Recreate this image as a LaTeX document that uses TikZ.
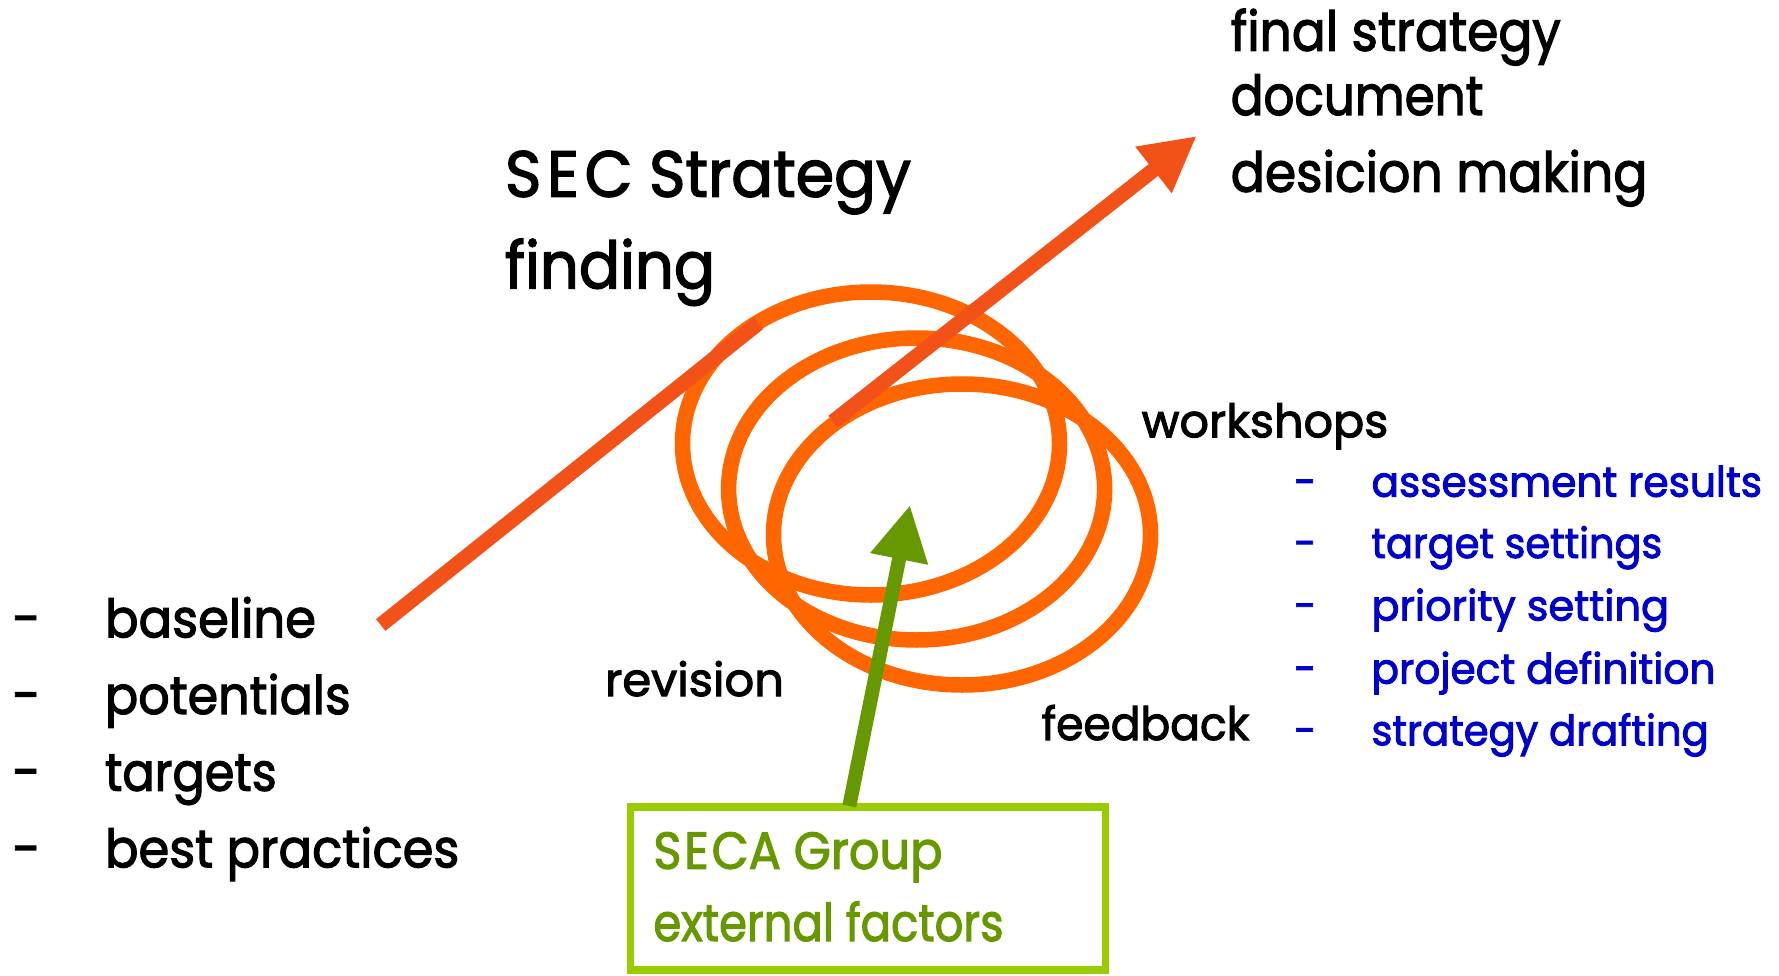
\documentclass[tikz,border=0pt]{standalone}
\usepackage{fontspec}
\setmainfont{Poppins}[UprightFeatures={FakeBold=2.2}]
\usepackage{graphicx}
\usetikzlibrary{arrows.meta}
\definecolor{ringorange}{HTML}{FF6600}
\definecolor{arrowred}{HTML}{F25218}
\definecolor{arrowgreen}{HTML}{669900}
\definecolor{boxgreen}{HTML}{99CC00}
\definecolor{listblue}{HTML}{0000CC}
\newcommand\fw[2]{\resizebox{#1pt}{\height}{#2}}
\tikzset{
  txt/.style={anchor=base west, inner sep=0pt, outer sep=0pt},
  big/.style={txt, font=\fontsize{65}{70}\selectfont},
  head/.style={txt, font=\fontsize{55}{60}\selectfont},
  leftitem/.style={txt, font=\fontsize{53}{58}\selectfont},
  mid/.style={txt, font=\fontsize{46}{50}\selectfont},
  blueitem/.style={txt, font=\fontsize{42}{46}\selectfont, text=listblue},
  greentxt/.style={txt, font=\fontsize{52}{56}\selectfont, text=arrowgreen},
  ring/.style={draw=ringorange, line width=15.5pt},
  redarrow/.style={draw=arrowred, line width=15pt, line cap=butt},
  greenarrow/.style={draw=arrowgreen, line width=14pt, line cap=butt},
  secabox/.style={draw=boxgreen, line width=7.3pt, fill=white, minimum width=475.2pt, minimum height=163pt, inner sep=0pt},
}
\begin{document}
\begin{tikzpicture}[x=1pt, y=-1pt]
\useasboundingbox (0,0) rectangle (1779,976);
% spiral rings
\draw[ring] (871,443.5) ellipse [x radius=188.5pt, y radius=151.5pt];
\draw[ring] (916.6,489) ellipse [x radius=188pt, y radius=151pt];
\draw[ring] (962,534.5) ellipse [x radius=188.5pt, y radius=150.5pt];
% red arrow
\coordinate (r1a) at (380.7,625);
\coordinate (r1b) at (758.3,323.3);
\coordinate (r2a) at (833,421.7);
\coordinate (r2b) at (1196.7,136);
\draw[redarrow] (r1a) -- (r1b);
\draw[redarrow, -{Triangle[length=55pt, width=55pt]}, arrowred] (r2a) -- (r2b);
% green box and arrow
\node[secabox] (seca) at (867.9,888.5) {};
\coordinate (gstart) at (849.3,806);
\coordinate (gtip) at (910,505);
\draw[greenarrow, -{Triangle[length=55pt, width=55pt]}, arrowgreen] (gstart) -- (gtip);
\node[greentxt] (seca1) at (653.4,868.8) {\fw{289.2}{S\kern3pt E\kern3pt CA Group}};
\node[greentxt] (seca2) at (653.4,941) {\fw{350.2}{external factors}};
% titles
\node[big] (t1) at (505,196.7) {\fw{406}{S\kern6pt E\kern6pt C Strategy}};
\node[big] (t2) at (505,288.3) {\fw{210}{finding}};
\node[head] (f1) at (1230.7,50.7) {\fw{330}{final strategy}};
\node[head] (f2) at (1230.7,115) {\fw{252.6}{document}};
\node[head] (f3) at (1230.7,191.7) {\fw{416.7}{desicion making}};
% labels
\node[mid] (ws) at (1141.7,437.3) {\fw{246.6}{workshops}};
\node[mid] (rev) at (605,696) {\fw{179}{revision}};
\node[mid] (fb) at (1041.7,740) {\fw{207.6}{feedback}};
% left list
\node[leftitem] (ld1) at (12.3,637.3) {\fw{26.7}{–}};
\node[leftitem] (ld2) at (12.3,714) {\fw{26.7}{–}};
\node[leftitem] (ld3) at (12.3,790.7) {\fw{26.7}{–}};
\node[leftitem] (ld4) at (12.3,867.3) {\fw{26.7}{–}};
\node[leftitem] (l1) at (105,637.3) {\fw{211}{baseline}};
\node[leftitem] (l2) at (105,714) {\fw{245.7}{potentials}};
\node[leftitem] (l3) at (105,790.7) {\fw{171.7}{targets}};
\node[leftitem] (l4) at (105,867.3) {\fw{354.3}{best practices}};
% blue list
\node[blueitem] (bd1) at (1294,496.7) {\fw{21}{–}};
\node[blueitem] (bd2) at (1294,558) {\fw{21}{–}};
\node[blueitem] (bd3) at (1294,620.5) {\fw{21}{–}};
\node[blueitem] (bd4) at (1294,683.6) {\fw{21}{–}};
\node[blueitem] (bd5) at (1294,745.3) {\fw{21}{–}};
\node[blueitem] (b1) at (1371.5,496.7) {\fw{390.5}{assessment results}};
\node[blueitem] (b2) at (1371.5,558) {\fw{290.7}{target settings}};
\node[blueitem] (b3) at (1371.5,620.5) {\fw{297.5}{priority setting}};
\node[blueitem] (b4) at (1371.5,683.6) {\fw{344}{project definition}};
\node[blueitem] (b5) at (1371.5,745.3) {\fw{337.2}{strategy drafting}};
\end{tikzpicture}
\end{document}
